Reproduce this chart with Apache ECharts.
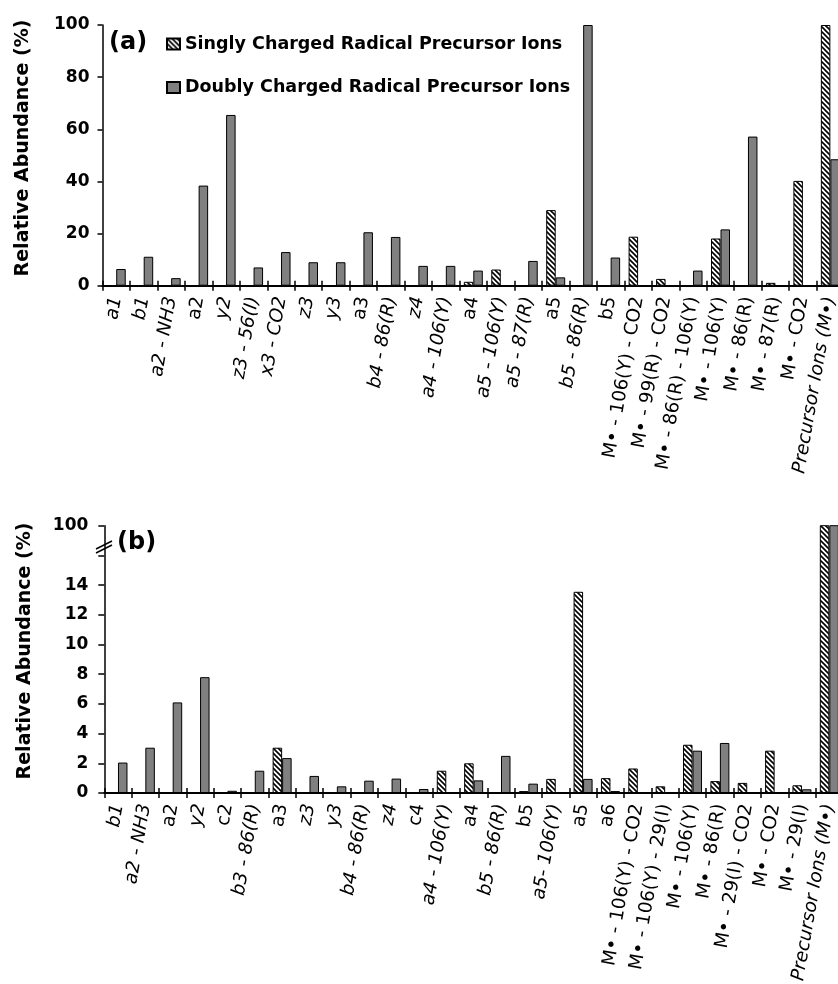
<!DOCTYPE html>
<html>
<head>
<meta charset="utf-8">
<script src="https://cdn.jsdelivr.net/npm/echarts@6/dist/echarts.min.js"></script>
<style>
html,body{margin:0;padding:0;background:#fff;}
#chart{width:838px;height:984px;}
</style>
</head>
<body>
<div id="chart"></div>
<script>
// ---- Data ----
const categoriesA = ['a1','b1','a2 - NH3','a2','y2','z3 - 56(I)','x3 - CO2','z3','y3','a3','b4 - 86(R)','z4','a4 - 106(Y)','a4','a5 - 106(Y)','a5 - 87(R)','a5','b5 - 86(R)','b5','M\u2022 - 106(Y) - CO2','M\u2022 - 99(R) - CO2','M\u2022 - 86(R) - 106(Y)','M\u2022 - 106(Y)','M\u2022 - 86(R)','M\u2022 - 87(R)','M\u2022 - CO2','Precursor Ions (M\u2022)'];
const singlyA = [null,null,null,null,null,null,null,null,null,null,null,null,null,1.5,6.2,null,29.0,null,null,18.8,2.6,null,18.1,null,1.1,40.2,100];
const doublyA = [6.4,11.1,2.9,38.4,65.5,7.0,12.9,9.0,9.0,20.5,18.7,7.6,7.6,5.8,null,9.5,3.2,100,10.8,null,null,5.8,21.6,57.2,null,null,48.5];

const categoriesB = ['b1','a2 - NH3','a2','y2','c2','b3 - 86(R)','a3','z3','y3','b4 - 86(R)','z4','c4','a4 - 106(Y)','a4','b5 - 86(R)','b5','a5- 106(Y)','a5','a6','M\u2022 - 106(Y) - CO2','M\u2022 - 106(Y) - 29(I)','M\u2022 - 106(Y)','M\u2022 - 86(R)','M\u2022 - 29(I) - CO2','M\u2022 - CO2','M\u2022 - 29(I)','Precursor Ions (M\u2022)'];
const singlyB = [null,null,null,null,null,null,3.05,null,null,null,null,null,1.5,2.0,null,0.13,0.95,13.55,1.0,1.65,0.45,3.25,0.8,0.68,2.85,0.52,100];
const doublyB = [2.05,3.05,6.1,7.8,0.15,1.5,2.35,1.15,0.45,0.83,0.97,0.27,null,0.85,2.5,0.63,null,0.95,0.13,null,null,2.85,3.37,null,null,0.25,100];

const yTicksA = [0,20,40,60,80,100];
const yTicksB = ['0','2','4','6','8','10','12','14','','100'];

const seriesNames = ['Singly Charged Radical Precursor Ions','Doubly Charged Radical Precursor Ions'];
const yTitle = 'Relative Abundance (%)';
const uprightLabels = ['a2','a3','a4','a5','a6','c2','c4','b5'];

// ---- Styles ----
const FONT = 'DejaVu Sans';
function makeHatch(){
  const c = document.createElement('canvas');
  c.width = 5; c.height = 5;
  const g = c.getContext('2d');
  g.fillStyle = '#fff'; g.fillRect(0,0,5,5);
  g.strokeStyle = '#000'; g.lineWidth = 1.6;
  g.beginPath();
  g.moveTo(-1,-1); g.lineTo(6,6);
  g.moveTo(-1,4); g.lineTo(1,6);
  g.moveTo(4,-1); g.lineTo(6,1);
  g.stroke();
  return c;
}
const hatch = {image: makeHatch(), repeat: 'repeat'};
const GRAY = '#808080';

function catData(list){
  return list.map(c => ({
    value: c,
    textStyle: {fontStyle: (uprightLabels.includes(c) || c.indexOf('M\u2022') === 0) ? 'normal' : 'italic'}
  }));
}

function xAxes(gridIndex, cats){
  return [{
    type: 'category', gridIndex: gridIndex, data: catData(cats), position: 'bottom',
    axisLine: {show: true, lineStyle: {color: '#000', width: 2}},
    axisTick: {show: true, interval: 0, length: 5, lineStyle: {color: '#000', width: 1.5}},
    axisLabel: {interval: 0, rotate: 80, margin: 11, fontSize: 18.5, color: '#000', fontFamily: FONT},
    splitLine: {show: false}
  },{
    type: 'category', gridIndex: gridIndex, data: cats, position: 'bottom',
    axisLine: {show: false},
    axisTick: {show: true, inside: true, interval: 0, length: 5, lineStyle: {color: '#000', width: 1.5}},
    axisLabel: {show: false},
    splitLine: {show: false}
  }];
}

const yLabelStyle = {fontSize: 17, fontWeight: 'bold', color: '#000', fontFamily: FONT};

const option = {
  animation: false,
  backgroundColor: '#fff',
  grid: [
    {left: 102.5, top: 25, width: 741.6, height: 260.7, outerBoundsMode: 'none', containLabel: false},
    {left: 104.3, top: 525.7, width: 738.7, height: 267.3, outerBoundsMode: 'none', containLabel: false}
  ],
  xAxis: [].concat(xAxes(0, categoriesA), xAxes(1, categoriesB)),
  yAxis: [{
    type: 'value', gridIndex: 0, min: 0, max: 100, interval: 20,
    axisLine: {show: true, lineStyle: {color: '#000', width: 1.5}},
    axisTick: {show: true, length: 5, lineStyle: {color: '#000', width: 1.5}},
    axisLabel: Object.assign({margin: 13, formatter: v => String(yTicksA[yTicksA.indexOf(v)])}, yLabelStyle),
    splitLine: {show: false}
  },{
    type: 'value', gridIndex: 1, min: 0, max: 18, interval: 2,
    axisLine: {show: true, lineStyle: {color: '#000', width: 1.5}},
    axisTick: {show: true, length: 6, lineStyle: {color: '#000', width: 1.5}},
    axisLabel: Object.assign({margin: 16, formatter: v => yTicksB[Math.round(v/2)]}, yLabelStyle),
    splitLine: {show: false}
  }],
  legend: {
    data: seriesNames,
    orient: 'vertical', left: 161, top: 30,
    itemWidth: 13, itemHeight: 11, itemGap: 25.5,
    icon: 'rect',
    textStyle: {fontSize: 17.5, fontWeight: 'bold', color: '#000', fontFamily: FONT}
  },
  series: [
    {name: seriesNames[0], type: 'bar', xAxisIndex: 0, yAxisIndex: 0, data: singlyA, barWidth: 9.5, barGap: '0%',
     itemStyle: {color: hatch, borderColor: '#000', borderWidth: 1}},
    {name: seriesNames[1], type: 'bar', xAxisIndex: 0, yAxisIndex: 0, data: doublyA, barWidth: 9.5, barGap: '0%',
     itemStyle: {color: GRAY, borderColor: '#000', borderWidth: 1}},
    {name: seriesNames[0], type: 'bar', xAxisIndex: 2, yAxisIndex: 1, data: singlyB, barWidth: 9.5, barGap: '0%',
     itemStyle: {color: hatch, borderColor: '#000', borderWidth: 1}},
    {name: seriesNames[1], type: 'bar', xAxisIndex: 2, yAxisIndex: 1, data: doublyB, barWidth: 9.5, barGap: '0%',
     itemStyle: {color: GRAY, borderColor: '#000', borderWidth: 1}}
  ],
  graphic: [
    {type: 'text', left: 109, top: 31, style: {text: '(a)', font: 'bold 24px "DejaVu Sans"', fill: '#000'}},
    {type: 'text', left: 117, top: 531, style: {text: '(b)', font: 'bold 24px "DejaVu Sans"', fill: '#000'}},
    {type: 'text', x: 23, y: 148, rotation: Math.PI/2,
     style: {text: yTitle, font: 'bold 19px "DejaVu Sans"', fill: '#000', align: 'center', verticalAlign: 'middle'}},
    {type: 'text', x: 25, y: 651, rotation: Math.PI/2,
     style: {text: yTitle, font: 'bold 19px "DejaVu Sans"', fill: '#000', align: 'center', verticalAlign: 'middle'}},
    {type: 'polygon', shape: {points: [[96,549],[112,541],[112,545],[96,553]]}, style: {fill: '#fff'}},
    {type: 'line', shape: {x1: 96, y1: 549, x2: 112, y2: 541}, style: {stroke: '#000', lineWidth: 1.5}},
    {type: 'line', shape: {x1: 96, y1: 553, x2: 112, y2: 545}, style: {stroke: '#000', lineWidth: 1.5}}
  ]
};

const chart = echarts.init(document.getElementById('chart'), null, {renderer: 'canvas'});
chart.setOption(option);
</script>
</body>
</html>
